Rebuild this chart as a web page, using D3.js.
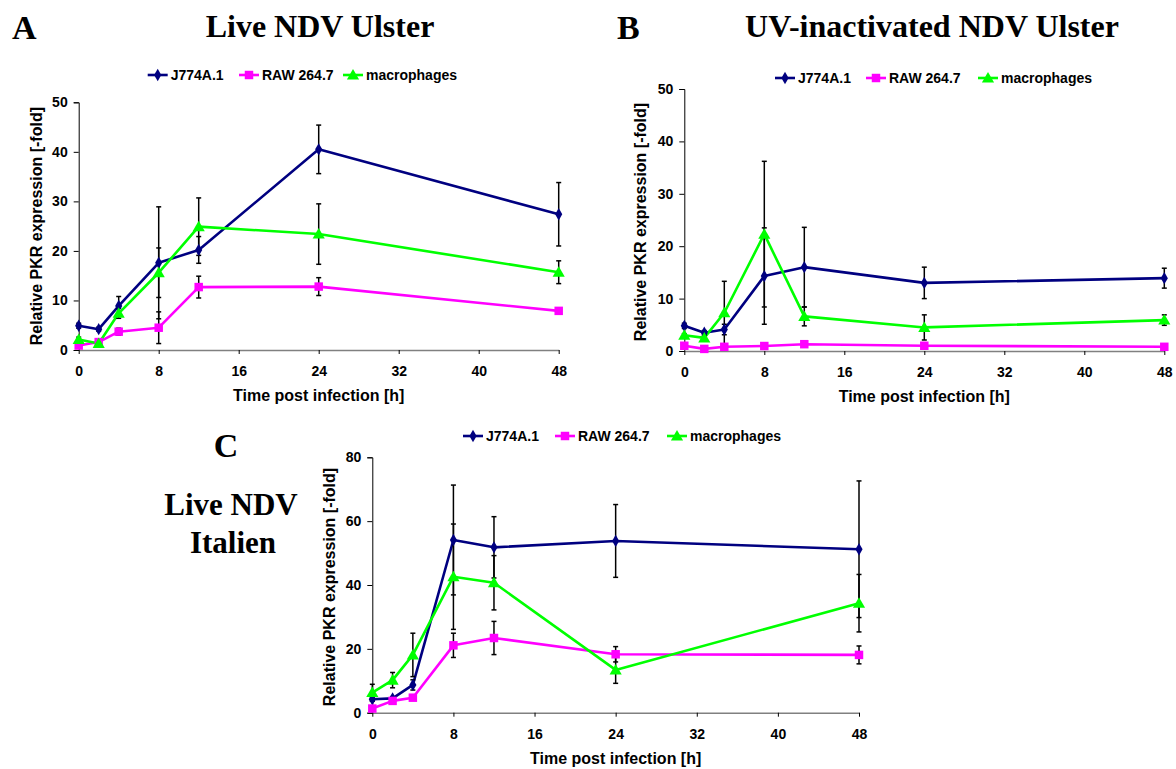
<!DOCTYPE html>
<html>
<head>
<meta charset="utf-8">
<script src="https://cdn.jsdelivr.net/npm/d3@7"></script>
<style>
  body { margin: 0; background: #fff; }
  svg { display: block; }
  .lbl { font-family: "Liberation Sans", Arial, sans-serif; font-weight: bold; fill: #000; }
  .ttl { font-family: "Liberation Serif", "Times New Roman", serif; font-weight: bold; fill: #000; }
</style>
</head>
<body>
<div id="chart"></div>
<script>
// time points (h) and labels
const timePoints = [0, 2, 4, 8, 12, 24, 48];
const xTicks = [0, 8, 16, 24, 32, 40, 48];
const seriesNames = ["J774A.1", "RAW 264.7", "macrophages"];

// A: live NDV Ulster
const ulsterJ774 = [4.9, 4.2, 8.9, 17.6, 20.2, 40.5, 27.4];
const ulsterJ774Err = [0.5, 0.4, 1.9, 11.3, 2.7, 4.9, 6.4];
const ulsterRaw = [0.9, 1.6, 3.7, 4.5, 12.7, 12.8, 7.9];
const ulsterRawErr = [0.3, 0.3, 0.7, 3.2, 2.2, 1.8, 0.6];
const ulsterMacro = [2.1, 1.3, 7.4, 15.6, 24.9, 23.4, 15.7];
const ulsterMacroErr = [0.5, 0.3, 1.0, 5.0, 5.8, 6.1, 2.3];

// B: UV-inactivated NDV Ulster
const uvJ774 = [4.8, 3.5, 4.1, 14.3, 16.0, 13.0, 13.9];
const uvJ774Err = [0.5, 0.4, 1.0, 9.2, 7.6, 3.0, 1.9];
const uvRaw = [1.0, 0.4, 0.8, 0.95, 1.3, 1.0, 0.8];
const uvRawErr = [0.2, 0.1, 0.2, 0.2, 0.3, 0.2, 0.2];
const uvMacro = [3.0, 2.5, 7.3, 22.3, 6.6, 4.5, 5.9];
const uvMacroErr = [0.3, 0.4, 6.0, 13.9, 1.8, 2.4, 1.0];

// C: live NDV Italien
const italienJ774 = [4.2, 4.5, 8.7, 54.1, 51.8, 53.8, 51.2];
const italienJ774Err = [0.6, 0.5, 1.6, 17.2, 9.6, 11.4, 21.4];
const italienRaw = [1.3, 3.7, 4.7, 21.1, 23.4, 18.3, 18.1];
const italienRawErr = [0.3, 0.4, 0.5, 3.8, 5.2, 2.4, 2.8];
const italienMacro = [6.3, 10.2, 18.1, 42.6, 40.7, 13.4, 34.3];
const italienMacroErr = [2.6, 2.4, 6.8, 16.5, 8.5, 4.2, 9.0];

const colors = ["#000080", "#ff00ff", "#00ff00"];
const shapes = [d3.symbolDiamond, d3.symbolSquare, d3.symbolTriangle];
const sizes = [44, 72, 64];

const svg = d3.select("#chart").append("svg")
    .attr("width", 1176)
    .attr("height", 769);

function marker(g, i, x, y) {
    g.append("path")
        .attr("d", d3.symbol().type(shapes[i]).size(sizes[i]))
        .attr("transform", `translate(${x},${y + (i === 2 ? 1 : 0)})`)
        .attr("fill", colors[i]);
}

function drawPanel(cfg) {
    const x = d3.scaleLinear().domain([0, 48]).range([cfg.left, cfg.right]);
    const y = d3.scaleLinear().domain([0, cfg.yMax]).range([cfg.bottom, cfg.top]);
    const g = svg.append("g");

    // y axis
    const yAxis = g.append("g")
        .attr("transform", `translate(${cfg.left},0)`)
        .call(d3.axisLeft(y).tickValues(cfg.yTicks).tickSize(5).tickPadding(6));
    yAxis.select(".domain").attr("stroke", "#000").attr("stroke-width", 1);
    yAxis.selectAll(".tick line").attr("stroke", "#000");
    yAxis.selectAll("text").attr("class", "lbl").style("font-size", "14px");

    // x axis
    const xAxis = g.append("g")
        .attr("transform", `translate(0,${cfg.bottom})`)
        .call(d3.axisBottom(x).tickValues(xTicks).tickSize(4).tickSizeOuter(0).tickPadding(12));
    xAxis.select(".domain").attr("stroke", "#808080").attr("stroke-width", 1.5);
    xAxis.selectAll(".tick line").attr("stroke", "#000");
    xAxis.selectAll("text").attr("class", "lbl").style("font-size", "14px");

    // axis titles
    g.append("text").attr("class", "lbl")
        .attr("text-anchor", "middle")
        .attr("transform", `translate(${cfg.yTitleX},${(cfg.top + cfg.bottom) / 2 + cfg.yTitleDy}) rotate(-90)`)
        .style("font-size", "16px")
        .text("Relative PKR expression [-fold]");
    g.append("text").attr("class", "lbl")
        .attr("text-anchor", "middle")
        .attr("x", (cfg.left + cfg.right) / 2)
        .attr("y", cfg.bottom + 51)
        .style("font-size", "16px")
        .text("Time post infection [h]");

    const line = d3.line().x((d, i) => x(timePoints[i])).y(d => y(d));

    cfg.series.forEach((s, si) => {
        g.append("path")
            .datum(s.values)
            .attr("d", line)
            .attr("fill", "none")
            .attr("stroke", colors[si])
            .attr("stroke-width", 2.6)
            .attr("stroke-linejoin", "round");
    });

    cfg.series.forEach((s, si) => {
        s.values.forEach((v, i) => {
            const cx = x(timePoints[i]);
            const y1 = y(Math.max(0, v - s.errors[i]));
            const y2 = y(v + s.errors[i]);
            g.append("line").attr("x1", cx).attr("x2", cx).attr("y1", y1).attr("y2", y2)
                .attr("stroke", "#000").attr("stroke-width", 1.5);
            [y1, y2].forEach(yy => {
                g.append("line").attr("x1", cx - 2.5).attr("x2", cx + 2.5).attr("y1", yy).attr("y2", yy)
                    .attr("stroke", "#000").attr("stroke-width", 1.5);
            });
        });
    });

    cfg.series.forEach((s, si) => {
        s.values.forEach((v, i) => marker(g, si, x(timePoints[i]), y(v)));
    });

    // legend
    const lg = g.append("g");
    cfg.legend.forEach((lx, i) => {
        lg.append("line")
            .attr("x1", lx).attr("x2", lx + 20)
            .attr("y1", cfg.legendY - 5).attr("y2", cfg.legendY - 5)
            .attr("stroke", colors[i]).attr("stroke-width", 2.6);
        marker(lg, i, lx + 10, cfg.legendY - 5);
        lg.append("text").attr("class", "lbl")
            .attr("x", lx + 23).attr("y", cfg.legendY)
            .style("font-size", "14px")
            .text(seriesNames[i]);
    });
}

drawPanel({
    left: 78.7, right: 558.7, top: 102.3, bottom: 350, yMax: 50,
    yTicks: [0, 10, 20, 30, 40, 50], yTitleX: 42, yTitleDy: 0,
    legend: [147.7, 239, 343], legendY: 80,
    series: [
        { values: ulsterJ774, errors: ulsterJ774Err },
        { values: ulsterRaw, errors: ulsterRawErr },
        { values: ulsterMacro, errors: ulsterMacroErr }
    ]
});

drawPanel({
    left: 684.3, right: 1164.3, top: 89, bottom: 351, yMax: 50,
    yTicks: [0, 10, 20, 30, 40, 50], yTitleX: 646, yTitleDy: 2,
    legend: [775, 866, 978], legendY: 83,
    series: [
        { values: uvJ774, errors: uvJ774Err },
        { values: uvRaw, errors: uvRawErr },
        { values: uvMacro, errors: uvMacroErr }
    ]
});

drawPanel({
    left: 372.3, right: 859, top: 457.3, bottom: 712.7, yMax: 80,
    yTicks: [0, 20, 40, 60, 80], yTitleX: 335, yTitleDy: 2,
    legend: [463, 555, 667], legendY: 441,
    series: [
        { values: italienJ774, errors: italienJ774Err },
        { values: italienRaw, errors: italienRawErr },
        { values: italienMacro, errors: italienMacroErr }
    ]
});

// panel letters and titles
const titles = [
    { x: 12, y: 39, size: 34, anchor: "start", text: "A" },
    { x: 320, y: 37, size: 32, anchor: "middle", text: "Live NDV Ulster" },
    { x: 617, y: 39, size: 34, anchor: "start", text: "B" },
    { x: 932, y: 37, size: 32, anchor: "middle", text: "UV-inactivated NDV Ulster" },
    { x: 226, y: 457, size: 34, anchor: "middle", text: "C" },
    { x: 231, y: 515, size: 31, anchor: "middle", text: "Live NDV" },
    { x: 233, y: 553, size: 31, anchor: "middle", text: "Italien" }
];
svg.selectAll(".ttl")
    .data(titles)
    .enter()
    .append("text")
    .attr("class", "ttl")
    .attr("x", d => d.x)
    .attr("y", d => d.y)
    .attr("text-anchor", d => d.anchor)
    .style("font-size", d => d.size + "px")
    .text(d => d.text);
</script>
</body>
</html>
